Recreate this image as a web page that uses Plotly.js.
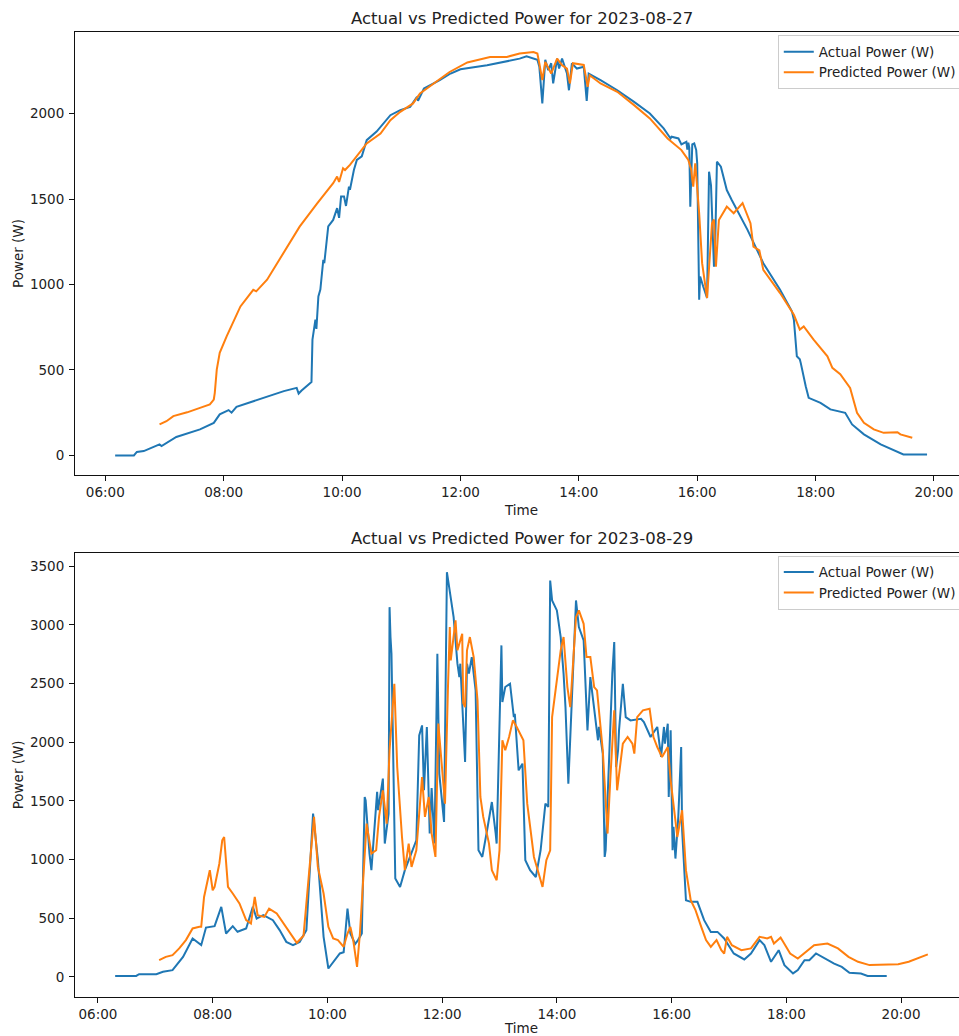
<!DOCTYPE html>
<html>
<head>
<meta charset="utf-8">
<script src="https://cdn.plot.ly/plotly-3.0.1.min.js"></script>
<style>
html, body { margin: 0; padding: 0; overflow: hidden; background: #fff; }
#chart { width: 970px; height: 1036px; }
</style>
</head>
<body>
<div id="chart"></div>
<script>
// ---------- Day 1: 2023-08-27 ----------
const date1 = "2023-08-27";
const actualTime1 = ["06:10","06:29","06:32","06:39","06:55","06:57","07:12","07:36","07:50","07:56","08:05","08:08","08:13","08:30","08:44","09:01","09:14","09:16","09:19","09:28","09:29","09:30","09:33","09:34","09:36","09:38","09:41","09:42","09:46","09:51","09:55","09:57","09:59","10:02","10:04","10:07","10:08","10:12","10:15","10:20","10:25","10:35","10:42","10:49","10:59","11:09","11:16","11:17","11:23","11:39","11:50","12:00","12:27","12:47","13:00","13:07","13:14","13:18","13:20","13:23","13:26","13:29","13:32","13:34","13:38","13:40","13:43","13:48","13:50","13:53","13:58","14:05","14:08","14:10","14:22","14:39","14:56","15:12","15:26","15:33","15:34","15:41","15:44","15:49","15:50","15:51","15:52","15:53","15:55","15:57","15:59","16:00","16:02","16:03","16:06","16:10","16:12","16:14","16:17","16:18","16:20","16:24","16:30","16:35","16:51","17:07","17:24","17:36","17:38","17:41","17:44","17:45","17:50","17:53","18:05","18:15","18:30","18:37","18:49","19:06","19:29","19:53"];
const actualPower1 = [0,0,20,25,64,55,108,152,190,240,265,250,284,317,343,376,395,362,380,425,430,677,794,740,930,970,1145,1125,1340,1378,1447,1390,1515,1515,1460,1573,1555,1670,1729,1750,1845,1895,1943,1991,2021,2040,2098,2075,2147,2196,2235,2260,2283,2308,2322,2336,2322,2315,2274,2060,2315,2255,2295,2177,2322,2264,2322,2235,2137,2295,2264,2275,2075,2235,2196,2137,2069,2001,1914,1855,1865,1855,1820,1835,1790,1830,1800,1456,1820,1826,1787,1710,911,1047,990,921,1660,1580,1105,1170,1719,1690,1553,1495,1320,1125,969,843,794,580,563,540,405,337,307,269,249,181,123,64,5,5];
const predTime1 = ["06:55","07:02","07:09","07:23","07:36","07:46","07:50","07:51","07:53","07:56","08:03","08:17","08:30","08:33","08:44","09:01","09:17","09:35","09:51","09:55","09:57","10:01","10:03","10:08","10:17","10:25","10:39","10:49","10:59","11:12","11:19","11:33","11:49","12:07","12:30","12:47","13:00","13:14","13:18","13:20","13:23","13:26","13:32","13:38","13:43","13:48","13:51","13:54","14:05","14:09","14:11","14:22","14:39","14:56","15:12","15:30","15:44","15:51","15:54","15:55","15:56","15:58","16:02","16:05","16:10","16:15","16:17","16:19","16:22","16:30","16:37","16:46","16:51","16:54","16:57","17:03","17:07","17:24","17:38","17:44","17:48","17:58","18:12","18:17","18:25","18:35","18:42","18:49","18:59","19:09","19:23","19:26","19:38"];
const predPower1 = [181,200,230,252,278,298,327,366,502,600,697,872,969,960,1028,1184,1339,1476,1593,1632,1600,1680,1670,1700,1768,1826,1884,1962,2011,2060,2118,2177,2244,2300,2332,2332,2352,2361,2352,2293,2196,2303,2235,2322,2284,2264,2177,2295,2285,2157,2225,2177,2128,2050,1972,1855,1787,1729,1670,1612,1573,1710,1417,1125,921,1359,1380,1105,1378,1456,1417,1476,1398,1359,1222,1200,1086,950,823,736,755,677,580,512,475,395,249,191,152,132,136,123,103];

// ---------- Day 2: 2023-08-29 ----------
const date2 = "2023-08-29";
const actualTime2 = ["06:18","06:40","06:43","07:01","07:08","07:18","07:29","07:39","07:48","07:53","08:02","08:09","08:14","08:21","08:26","08:35","08:42","08:46","08:53","09:03","09:10","09:17","09:24","09:31","09:38","09:45","09:50","09:56","10:01","10:06","10:13","10:17","10:21","10:24","10:29","10:32","10:36","10:39","10:40","10:44","10:46","10:52","10:53","10:58","11:00","11:04","11:05","11:06","11:07","11:11","11:16","11:21","11:33","11:36","11:39","11:41","11:44","11:47","11:49","11:52","11:55","11:57","12:02","12:05","12:12","12:16","12:17","12:18","12:19","12:24","12:26","12:28","12:31","12:35","12:38","12:42","12:47","12:52","12:56","12:57","13:02","13:03","13:06","13:11","13:15","13:16","13:20","13:24","13:27","13:32","13:38","13:43","13:48","13:51","13:53","13:55","14:00","14:04","14:07","14:09","14:12","14:14","14:18","14:20","14:23","14:28","14:32","14:35","14:43","14:44","14:48","14:50","14:51","14:55","14:58","15:00","15:02","15:04","15:05","15:09","15:12","15:17","15:28","15:31","15:38","15:45","15:49","15:52","15:53","15:56","15:57","15:59","16:01","16:02","16:04","16:07","16:10","16:11","16:15","16:20","16:27","16:34","16:41","16:48","16:55","17:05","17:16","17:23","17:32","17:37","17:44","17:52","17:58","18:07","18:12","18:19","18:24","18:31","18:40","18:50","18:58","19:06","19:18","19:25","19:45"];
const actualPower2 = [8,8,22,22,43,57,170,327,270,420,432,596,369,432,384,412,596,497,525,483,398,298,270,298,398,1391,1000,341,71,128,199,210,582,369,280,313,370,1533,1504,1050,909,1576,1420,1690,1136,1391,3151,2895,2754,838,766,909,1164,2058,2143,1590,2130,1221,1610,1136,2754,1732,1320,3449,3066,2669,2612,2555,2669,1831,2669,2584,2725,2441,1079,1022,1249,1490,1221,1136,2825,2342,2470,2498,2214,2242,1760,1817,994,909,851,1079,1476,1448,3378,3208,3123,2895,2584,2299,1647,2073,2867,3208,2981,2867,2101,2555,2016,2130,1903,1022,1079,1960,2584,2853,1788,1931,2101,2498,2214,2186,2200,2172,2044,2130,1874,2130,1988,2158,1533,2101,1079,1278,1008,1363,1959,1249,653,639,639,483,383,383,327,199,148,199,313,270,128,227,100,29,57,142,142,199,156,113,85,34,28,8,8];
const predTime2 = ["07:04","07:11","07:18","07:25","07:32","07:39","07:46","07:48","07:51","07:57","08:00","08:02","08:07","08:10","08:12","08:16","08:21","08:28","08:35","08:40","08:44","08:47","08:54","08:59","09:07","09:14","09:21","09:28","09:35","09:40","09:46","09:50","09:56","10:01","10:06","10:11","10:17","10:21","10:24","10:27","10:31","10:34","10:41","10:46","10:51","10:54","10:58","11:02","11:05","11:10","11:13","11:18","11:21","11:25","11:28","11:33","11:39","11:42","11:46","11:49","11:53","11:56","12:00","12:03","12:06","12:08","12:09","12:14","12:16","12:21","12:22","12:24","12:26","12:29","12:33","12:37","12:40","12:43","12:49","12:52","12:57","13:00","13:03","13:06","13:10","13:14","13:18","13:25","13:29","13:32","13:36","13:40","13:45","13:49","13:53","13:55","14:00","14:04","14:07","14:11","14:14","14:20","14:23","14:28","14:31","14:35","14:39","14:42","14:48","14:53","14:56","15:00","15:03","15:09","15:14","15:19","15:21","15:24","15:30","15:37","15:41","15:45","15:50","15:56","15:59","16:01","16:06","16:11","16:15","16:20","16:25","16:31","16:36","16:41","16:47","16:52","16:55","16:58","17:03","17:13","17:23","17:32","17:40","17:44","17:47","17:54","18:04","18:12","18:20","18:29","18:43","18:54","19:05","19:15","19:27","19:57","20:08","20:28"];
const predPower2 = [142,170,185,242,313,412,426,426,681,909,738,767,966,1164,1192,767,710,625,483,454,681,525,511,582,540,454,369,290,350,795,1363,937,710,426,327,313,256,369,426,313,85,369,1306,1051,1079,1363,1590,1306,1931,2498,1788,1192,909,1136,937,1079,1703,1363,1533,1221,1022,2158,1760,1476,2441,2981,2698,3038,2783,2924,2334,2299,2783,2896,2725,2357,1533,1363,1136,909,823,1079,2016,1931,2044,2186,2130,2016,1476,1278,1022,909,766,994,1079,2214,2555,2783,2896,2470,2299,3066,3123,3009,2725,2725,2470,2441,1931,1221,1703,2271,1590,1988,2044,1988,1903,2214,2271,2285,2044,1959,1874,1959,1675,1533,1192,1420,909,653,568,426,313,256,313,227,199,341,270,227,242,341,327,341,284,335,199,156,213,270,284,242,170,128,100,108,128,191];

// ---------- labels ----------
const title1 = "Actual vs Predicted Power for 2023-08-27";
const title2 = "Actual vs Predicted Power for 2023-08-29";
const seriesNames = ["Actual Power (W)", "Predicted Power (W)"];
const xTickTimes = ["06:00","08:00","10:00","12:00","14:00","16:00","18:00","20:00"];
const yTicks1 = [0, 500, 1000, 1500, 2000];
const yTicks2 = [0, 500, 1000, 1500, 2000, 2500, 3000, 3500];

const toDates = (d, arr) => arr.map(t => d + " " + t);
const BLUE = "#1f77b4", ORANGE = "#ff7f0e";
const FONT = "DejaVu Sans, Liberation Sans, sans-serif";

const traces = [
  {x: toDates(date1, actualTime1), y: actualPower1, name: seriesNames[0], type: "scatter", mode: "lines",
   line: {color: BLUE, width: 2}, xaxis: "x", yaxis: "y", legend: "legend"},
  {x: toDates(date1, predTime1), y: predPower1, name: seriesNames[1], type: "scatter", mode: "lines",
   line: {color: ORANGE, width: 2}, xaxis: "x", yaxis: "y", legend: "legend"},
  {x: toDates(date2, actualTime2), y: actualPower2, name: seriesNames[0], type: "scatter", mode: "lines",
   line: {color: BLUE, width: 2}, xaxis: "x2", yaxis: "y2", legend: "legend2"},
  {x: toDates(date2, predTime2), y: predPower2, name: seriesNames[1], type: "scatter", mode: "lines",
   line: {color: ORANGE, width: 2}, xaxis: "x2", yaxis: "y2", legend: "legend2"}
];

const axisCommon = {
  showline: true, mirror: true, linecolor: "#111", linewidth: 1,
  ticks: "outside", ticklen: 5, tickwidth: 1, tickcolor: "#111",
  showgrid: false, zeroline: false,
  tickfont: {family: FONT, size: 13.5, color: "#222"}
};

const layout = {
  width: 970, height: 1036,
  margin: {l: 75, r: 2, t: 32, b: 39},
  paper_bgcolor: "#fff", plot_bgcolor: "#fff",
  font: {family: FONT, size: 13.5, color: "#222"},
  xaxis: Object.assign({}, axisCommon, {
    type: "date", anchor: "y", domain: [0, 1],
    range: [date1 + " 05:29:18", date1 + " 20:34:30"],
    tickvals: toDates(date1, xTickTimes), ticktext: xTickTimes,
    title: {text: "Time", font: {family: FONT, size: 13.5, color: "#222"}, standoff: 6}
  }),
  yaxis: Object.assign({}, axisCommon, {
    anchor: "x", domain: [0.5409, 1], range: [-115, 2478],
    tickvals: yTicks1, ticklabelstandoff: 2,
    title: {text: "Power (W)", font: {family: FONT, size: 13.5, color: "#222"}, standoff: 3}
  }),
  xaxis2: Object.assign({}, axisCommon, {
    type: "date", anchor: "y2", domain: [0, 1],
    range: [date2 + " 05:36:00", date2 + " 21:10:00"],
    tickvals: toDates(date2, xTickTimes), ticktext: xTickTimes,
    title: {text: "Time", font: {family: FONT, size: 13.5, color: "#222"}, standoff: 8}
  }),
  yaxis2: Object.assign({}, axisCommon, {
    anchor: "x2", domain: [0, 0.4604], range: [-172, 3615],
    tickvals: yTicks2, ticklabelstandoff: 2,
    title: {text: "Power (W)", font: {family: FONT, size: 13.5, color: "#222"}, standoff: 3}
  }),
  legend: {
    x: 0.787, y: 0.9965, xanchor: "left", yanchor: "top",
    bgcolor: "rgba(255,255,255,0.8)", bordercolor: "#ccc", borderwidth: 1,
    font: {family: FONT, size: 13.5, color: "#222"}, tracegroupgap: 0
  },
  legend2: {
    x: 0.787, y: 0.4574, xanchor: "left", yanchor: "top",
    bgcolor: "rgba(255,255,255,0.8)", bordercolor: "#ccc", borderwidth: 1,
    font: {family: FONT, size: 13.5, color: "#222"}, tracegroupgap: 0
  },
  annotations: [
    {text: title1, xref: "paper", yref: "paper", x: 0.5, y: 1.0145, xanchor: "center", yanchor: "middle",
     showarrow: false, font: {family: FONT, size: 16.5, color: "#222"}},
    {text: title2, xref: "paper", yref: "paper", x: 0.5, y: 0.4753, xanchor: "center", yanchor: "middle",
     showarrow: false, font: {family: FONT, size: 16.5, color: "#222"}}
  ],
  showlegend: true
};

Plotly.newPlot("chart", traces, layout, {displayModeBar: false, staticPlot: true});
</script>
</body>
</html>
